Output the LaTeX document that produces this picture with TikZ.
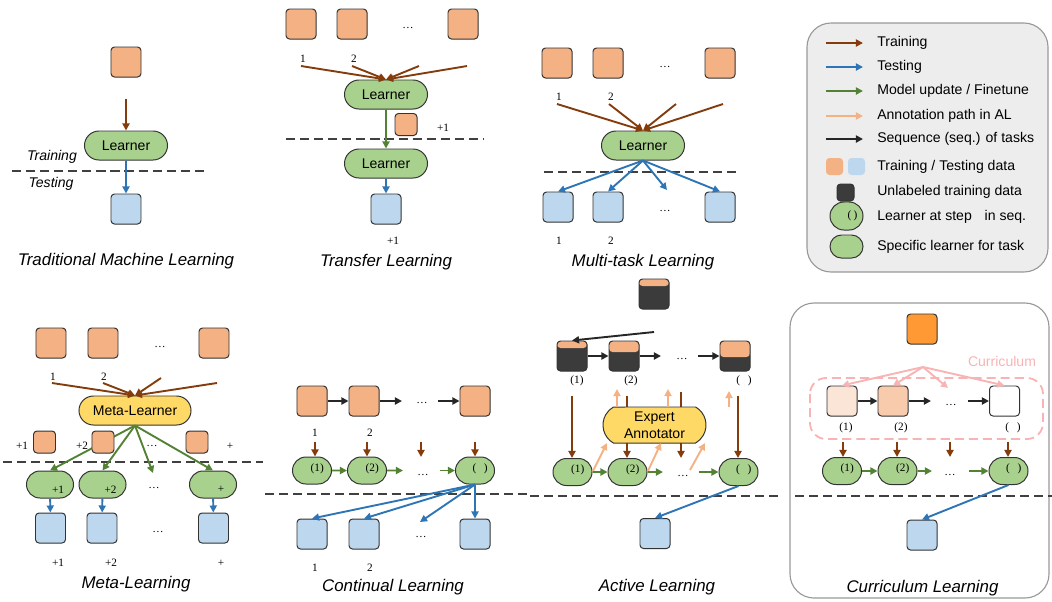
\documentclass[tikz,border=0pt]{standalone}
\usepackage{fontspec}
\setmainfont{Liberation Sans}
\newfontfamily\numfont{Liberation Serif}
\usetikzlibrary{arrows.meta,shapes.misc}

\definecolor{trainc}{HTML}{F4B183}
\definecolor{testc}{HTML}{BDD7EE}
\definecolor{learnc}{HTML}{A9D18E}
\definecolor{metac}{HTML}{FFD966}
\definecolor{brownc}{HTML}{843C0C}
\definecolor{bluec}{HTML}{2E75B6}
\definecolor{greenc}{HTML}{548235}
\definecolor{annotc}{HTML}{F4B183}
\definecolor{seqc}{HTML}{262626}
\definecolor{darkc}{HTML}{3B3B3B}
\definecolor{pinkc}{HTML}{F8B4B4}
\definecolor{currc}{HTML}{FF9933}
\definecolor{cura}{HTML}{FBE5D6}
\definecolor{curb}{HTML}{F8CBAD}
\definecolor{legbg}{HTML}{EDEDED}

\newcommand{\lblfont}{\numfont\fontsize{8}{9}\selectfont}

\tikzstyle{datablock} = [rectangle, rounded corners=2.5pt, minimum width=0.75cm,
minimum height=0.75cm, inner sep=0pt, draw=black!80, line width=0.7pt, fill=trainc]
\tikzstyle{testblock} = [datablock, fill=testc]
\tikzstyle{smallblock} = [datablock, minimum width=0.55cm, minimum height=0.55cm]
\tikzstyle{learner} = [rounded rectangle, minimum width=2.075cm, minimum
height=0.725cm, inner sep=0pt, draw=black!80, line width=0.7pt, fill=learnc, font=\fontsize{10}{12}\selectfont]
\tikzstyle{metalearner} = [learner, minimum width=2.8cm, fill=metac]
\tikzstyle{steplearner} = [learner, minimum width=0.975cm, minimum height=0.675cm]
\tikzstyle{tasklearner} = [steplearner, minimum width=1.175cm]
\tikzstyle{lbl} = [inner sep=0pt, font=\lblfont]
\tikzstyle{phase} = [inner sep=0pt, font=\itshape\fontsize{10}{12}\selectfont]
\tikzstyle{tasktitle} = [inner sep=0pt, font=\itshape\fontsize{12}{14}\selectfont]
\tikzstyle{legtext} = [anchor=west, inner sep=0pt, font=\fontsize{10}{12}\selectfont]
\tikzstyle{arrow} = [line width=1.35pt, -{Triangle[length=5pt,width=5pt]}]
\tikzstyle{trainarrow} = [arrow, draw=brownc]
\tikzstyle{testarrow} = [arrow, draw=bluec]
\tikzstyle{updatearrow} = [arrow, draw=greenc]
\tikzstyle{annotarrow} = [arrow, draw=annotc]
\tikzstyle{seqarrow} = [arrow, draw=seqc]
\tikzstyle{currarrow} = [arrow, draw=pinkc]
\tikzstyle{divider} = [line width=1.1pt, draw=black!75, dash pattern=on 6.5pt off 3.5pt]
\tikzset{
  unlabeled/.style={datablock, fill=darkc, path picture={\fill[trainc]
    (path picture bounding box.north west) rectangle
    ([yshift=-#1]path picture bounding box.north east);}},
  steptext/.style={label={[lbl, xshift=0.13cm, yshift=0.05cm]center:#1}},
  tasktext/.style={label={[lbl, xshift=0.2cm, yshift=-0.13cm]center:#1}}
}

\begin{document}
\begin{tikzpicture}[x=0.025cm, y=-0.025cm]
    \useasboundingbox (0,0) rectangle (1052,601);
    % Traditional machine learning
    \node (TMdata) [datablock] at (126,62) {};
    \coordinate (TMin) at (126,99);
    \node (TMlearner) [learner] at (126,145.5) {Learner};
    \node (TMtest) [testblock] at (126,209) {};
    \draw [divider] (12,171) -- (207,171);
    \draw [trainarrow] (TMin) -- (TMlearner);
    \draw [testarrow] (TMlearner) -- (TMtest);
    \node (TMtrain) [phase] at (52,157) {Training};
    \node (TMtesting) [phase] at (51,184) {Testing};
    \node (TMtitle) [tasktitle] at (126,261) {Traditional Machine Learning};
    % Transfer learning
    \node (TFd1) [datablock] at (301,24) {};
    \node (TFd2) [datablock] at (352,24) {};
    \node (TFdots) [lbl] at (408,28) {\dots};
    \node (TFdn) [datablock] at (463,24) {};
    \node (TFl1) [lbl] at (303,59) {1};
    \node (TFl2) [lbl] at (354,59) {2};
    \coordinate (TFa1) at (301,66);
    \coordinate (TFa2) at (352,66);
    \coordinate (TFa3) at (419,66);
    \coordinate (TFa4) at (467,66);
    \node (TFsrc) [learner] at (386,94.5) {Learner};
    \draw [trainarrow] (TFa1) -- (TFsrc.north);
    \draw [trainarrow] (TFa2) -- (TFsrc.north);
    \draw [trainarrow] (TFa3) -- (TFsrc.north);
    \draw [trainarrow] (TFa4) -- (TFsrc.north);
    \node (TFnew) [smallblock] at (406,124.5) {};
    \node (TFnewl) [lbl] at (443,128) {+1};
    \draw [divider] (286,139) -- (484,139);
    \node (TFtgt) [learner] at (386,163.5) {Learner};
    \node (TFtest) [testblock] at (386,209) {};
    \draw [updatearrow] (TFsrc) -- (TFtgt);
    \draw [testarrow] (TFtgt) -- (TFtest);
    \node (TFtestl) [lbl] at (393,241) {+1};
    \node (TFtitle) [tasktitle] at (386,262) {Transfer Learning};
    % Multi-task learning
    \node (MTd1) [datablock] at (557,63) {};
    \node (MTd2) [datablock] at (608,63) {};
    \node (MTdots) [lbl] at (665,67) {\dots};
    \node (MTdn) [datablock] at (720,63) {};
    \node (MTl1) [lbl] at (559,97) {1};
    \node (MTl2) [lbl] at (611,97) {2};
    \coordinate (MTa1) at (557,104);
    \coordinate (MTa2) at (609,104);
    \coordinate (MTa3) at (676,104);
    \coordinate (MTa4) at (723,104);
    \node (MTlearner) [learner] at (643,145.5) {Learner};
    \draw [trainarrow] (MTa1) -- (MTlearner.north);
    \draw [trainarrow] (MTa2) -- (MTlearner.north);
    \draw [trainarrow] (MTa3) -- (MTlearner.north);
    \draw [trainarrow] (MTa4) -- (MTlearner.north);
    \draw [divider] (544,172) -- (740,172);
    \node (MTt1) [testblock] at (558,207) {};
    \node (MTt2) [testblock] at (608,207) {};
    \node (MTtdots) [lbl] at (665,211) {\dots};
    \node (MTtn) [testblock] at (720,207) {};
    \coordinate (MTfree) at (667,190);
    \draw [testarrow] (MTlearner.south) -- (MTt1.north);
    \draw [testarrow] (MTlearner.south) -- (MTt2.north);
    \draw [testarrow] (MTlearner.south) -- (MTfree);
    \draw [testarrow] (MTlearner.south) -- (MTtn.north);
    \node (MTtl1) [lbl] at (559,241) {1};
    \node (MTtl2) [lbl] at (611,241) {2};
    \node (MTtitle) [tasktitle] at (643,262) {Multi-task Learning};
    % Legend
    \draw [draw=black!40, fill=legbg, line width=0.8pt, rounded corners=0.6cm]
        (807,23) rectangle (1048,272);
    \node (lgTrain) [legtext] at (877,43) {Training};
    \node (lgTest) [legtext] at (877,67) {Testing};
    \node (lgUpdate) [legtext] at (877,91) {Model update / Finetune};
    \node (lgAnnot) [legtext] at (877,116) {Annotation path in AL};
    \node (lgSeq) [legtext] at (877,139) {Sequence (seq.) of tasks};
    \node (lgData) [legtext] at (877,167) {Training / Testing data};
    \node (lgUnlab) [legtext] at (877,192) {Unlabeled training data};
    \node (lgStep) [legtext] at (877,217) {Learner at step\hspace{0.32cm}in seq.};
    \node (lgSpec) [legtext] at (877,247) {Specific learner for task};
    \draw [trainarrow] ([xshift=-1.275cm]lgTrain.west) -- ([xshift=-0.35cm]lgTrain.west);
    \draw [testarrow] ([xshift=-1.275cm]lgTest.west) -- ([xshift=-0.35cm]lgTest.west);
    \draw [updatearrow] ([xshift=-1.275cm]lgUpdate.west) -- ([xshift=-0.35cm]lgUpdate.west);
    \draw [annotarrow] ([xshift=-1.275cm]lgAnnot.west) -- ([xshift=-0.35cm]lgAnnot.west);
    \draw [seqarrow] ([xshift=-1.275cm]lgSeq.west) -- ([xshift=-0.35cm]lgSeq.west);
    \node (lgTrBox) [datablock, draw=none, minimum width=0.425cm, minimum height=0.425cm] at (834.5,166.5) {};
    \node (lgTeBox) [testblock, draw=none, minimum width=0.425cm, minimum height=0.425cm] at (856.5,166.5) {};
    \node (lgUnBox) [datablock, fill=darkc, minimum width=0.425cm, minimum height=0.425cm] at (845.5,192.5) {};
    \node (lgStepL) [steplearner, minimum width=0.825cm, minimum height=0.7cm,
        label={[lbl, xshift=0.15cm]center:(\hspace{0.06cm})}] at (846.5,216) {};
    \node (lgSpecL) [steplearner, minimum width=0.825cm, minimum height=0.575cm] at (846.5,246.5) {};
    % Meta-learning
    \node (MLd1) [datablock] at (51,343) {};
    \node (MLd2) [datablock] at (103,343) {};
    \node (MLdots) [lbl] at (160,347) {\dots};
    \node (MLdn) [datablock] at (214,343) {};
    \node (MLl1) [lbl] at (53,377) {1};
    \node (MLl2) [lbl] at (104,377) {2};
    \coordinate (MLa1) at (52,383);
    \coordinate (MLa2) at (103,383);
    \coordinate (MLa3) at (161,378);
    \coordinate (MLa4) at (217,383);
    \node (MLmeta) [metalearner] at (135,410.5) {Meta-Learner};
    \draw [trainarrow] (MLa1) -- (MLmeta.north);
    \draw [trainarrow] (MLa2) -- (MLmeta.north);
    \draw [trainarrow] (MLa3) -- (MLmeta.north);
    \draw [trainarrow] (MLa4) -- (MLmeta.north);
    \draw [divider] (3,462) -- (263,462);
    \node (MLp1) [tasklearner, tasktext=+1] at (50,484.5) {};
    \node (MLp2) [tasklearner, tasktext=+2] at (102.5,484.5) {};
    \node (MLpdots) [lbl] at (154,488) {\dots};
    \node (MLpn) [tasklearner, tasktext=+] at (213,484.5) {};
    \coordinate (MLfree) at (153,473);
    \draw [updatearrow] (MLmeta.south) -- (MLp1.north);
    \draw [updatearrow] (MLmeta.south) -- (MLp2.north);
    \draw [updatearrow] (MLmeta.south) -- (MLfree);
    \draw [updatearrow] (MLmeta.south) -- (MLpn.north);
    \node (MLs1) [smallblock] at (44.5,442) {};
    \node (MLs2) [smallblock] at (103,442) {};
    \node (MLsdots) [lbl] at (152,446) {\dots};
    \node (MLsn) [smallblock] at (197,442) {};
    \node (MLsl1) [lbl] at (22,446) {+1};
    \node (MLsl2) [lbl] at (82,446) {+2};
    \node (MLsln) [lbl] at (230,446) {+};
    \node (MLt1) [testblock] at (50.5,528) {};
    \node (MLt2) [testblock] at (102,528) {};
    \node (MLtdots) [lbl] at (158,532) {\dots};
    \node (MLtn) [testblock] at (213.5,528) {};
    \draw [testarrow] (MLp1) -- (MLt1);
    \draw [testarrow] (MLp2) -- (MLt2);
    \draw [testarrow] (MLpn) -- (MLtn);
    \node (MLtl1) [lbl] at (58,563) {+1};
    \node (MLtl2) [lbl] at (111,563) {+2};
    \node (MLtln) [lbl] at (221,563) {+};
    \node (MLtitle) [tasktitle] at (136,584) {Meta-Learning};
    % Continual learning
    \node (CLd1) [datablock] at (312,401) {};
    \node (CLd2) [datablock] at (364,401) {};
    \node (CLdots) [lbl] at (422,403) {\dots};
    \node (CLdn) [datablock] at (475,401) {};
    \coordinate (CLs1) at (402,401);
    \coordinate (CLs2) at (438,401);
    \draw [seqarrow] (CLd1) -- (CLd2);
    \draw [seqarrow] (CLd2) -- (CLs1);
    \draw [seqarrow] (CLs2) -- (CLdn);
    \node (CLl1) [lbl] at (315,433) {1};
    \node (CLl2) [lbl] at (370,433) {2};
    \node (CLp1) [steplearner, steptext=(1)] at (312,470.5) {};
    \node (CLp2) [steplearner, steptext=(2)] at (367,470.5) {};
    \node (CLpdots) [lbl] at (423,475) {\dots};
    \node (CLpn) [steplearner, steptext={(\hspace{0.19cm})}] at (475,470.5) {};
    \coordinate (CLb1) at (315,442);
    \coordinate (CLb2) at (367,442);
    \coordinate (CLb3) at (421,442);
    \coordinate (CLb3e) at (421,457);
    \coordinate (CLb4) at (475,442);
    \draw [trainarrow] (CLb1) -- (CLb1 |- CLp1.north);
    \draw [trainarrow] (CLb2) -- (CLp2.north);
    \draw [trainarrow] (CLb3) -- (CLb3e);
    \draw [trainarrow] (CLb4) -- (CLpn.north);
    \coordinate (CLg1) at (403,470.5);
    \coordinate (CLg2) at (440,470.5);
    \draw [updatearrow] (CLp1) -- (CLp2);
    \draw [updatearrow] (CLp2) -- (CLg1);
    \draw [updatearrow] (CLg2) -- (CLpn);
    \draw [divider] (265,494) -- (530,494);
    \node (CLt1) [testblock] at (312,534) {};
    \node (CLt2) [testblock] at (364,534) {};
    \node (CLtdots) [lbl] at (421,537) {\dots};
    \node (CLtn) [testblock] at (475,534) {};
    \coordinate (CLfree) at (420,522);
    \draw [testarrow] (CLpn.south) -- (CLt1.north);
    \draw [testarrow] (CLpn.south) -- (CLt2.north);
    \draw [testarrow] (CLpn.south) -- (CLfree);
    \draw [testarrow] (CLpn.south) -- (CLtn.north);
    \node (CLtl1) [lbl] at (315,568) {1};
    \node (CLtl2) [lbl] at (370,568) {2};
    \node (CLtitle) [tasktitle] at (393,587) {Continual Learning};
    % Active learning
    \node (ALpool) [unlabeled=0.175cm] at (654,294) {};
    \node (ALu1) [unlabeled=0.175cm] at (572,356) {};
    \node (ALu2) [unlabeled=0.275cm] at (624,356) {};
    \node (ALdots) [lbl] at (682,359) {\dots};
    \node (ALun) [unlabeled=0.4cm] at (735,356) {};
    \coordinate (ALsel) at (654,332);
    \draw [seqarrow] (ALsel) -- (ALu1.north);
    \coordinate (ALs1) at (661,356);
    \coordinate (ALs2) at (698,356);
    \draw [seqarrow] (ALu1) -- (ALu2);
    \draw [seqarrow] (ALu2) -- (ALs1);
    \draw [seqarrow] (ALs2) -- (ALun);
    \node (ALl1) [lbl] at (577,381) {(1)};
    \node (ALl2) [lbl] at (631,381) {(2)};
    \node (ALln) [lbl] at (744,381) {(\hspace{0.19cm})};
    \node (ALp1) [steplearner, steptext=(1)] at (572.5,472) {};
    \node (ALp2) [steplearner, steptext=(2)] at (627.5,472) {};
    \node (ALpdots) [lbl] at (683,476) {\dots};
    \node (ALpn) [steplearner, steptext={(\hspace{0.19cm})}] at (738.5,472) {};
    \coordinate (ALb1) at (572,396);
    \coordinate (ALb2) at (627,396);
    \coordinate (ALb3) at (681,392);
    \coordinate (ALb3e) at (681,458);
    \coordinate (ALb4) at (738,396);
    \draw [trainarrow] (ALb1) -- (ALb1 |- ALp1.north);
    \draw [trainarrow] (ALb2) -- (ALb2 |- ALp2.north);
    \draw [trainarrow] (ALb3) -- (ALb3e);
    \draw [trainarrow] (ALb4) -- (ALb4 |- ALpn.north);
    \node (ALexpert) [metalearner, minimum width=2.575cm, minimum height=0.9cm,
        rounded rectangle arc length=120, align=center, font=\fontsize{10}{12}\selectfont]
        at (654.5,425) {Expert\\Annotator};
    \coordinate (ALup1) at (617,389);
    \coordinate (ALup2) at (668,389);
    \coordinate (ALup3) at (729,391);
    \coordinate (ALup3s) at (729,407);
    \draw [annotarrow] (ALexpert.north -| ALup1) -- (ALup1);
    \draw [annotarrow] (ALexpert.north -| ALup2) -- (ALup2);
    \draw [annotarrow] (ALup3s) -- (ALup3);
    \coordinate (ALe1) at (607,443);
    \coordinate (ALe2) at (661,443);
    \coordinate (ALe3) at (705,443);
    \coordinate (ALe3s) at (690,470);
    \draw [annotarrow] (ALp1.east) -- (ALe1);
    \draw [annotarrow] (ALp2.east) -- (ALe2);
    \draw [annotarrow] (ALe3s) -- (ALe3);
    \coordinate (ALg1) at (663,472);
    \coordinate (ALg2) at (699,472);
    \draw [updatearrow] (ALp1) -- (ALp2);
    \draw [updatearrow] (ALp2) -- (ALg1);
    \draw [updatearrow] (ALg2) -- (ALpn);
    \draw [divider] (530,496) -- (780,496);
    \node (ALtest) [testblock] at (655,533.5) {};
    \draw [testarrow] (ALpn.south) -- (ALtest.north);
    \node (ALtitle) [tasktitle] at (657,587) {Active Learning};
    % Curriculum learning
    \draw [draw=black!40, line width=0.8pt, rounded corners=0.6cm]
        (790,303) rectangle (1049,598);
    \node (CUraw) [datablock, fill=currc] at (922,329) {};
    \node (CUname) [inner sep=0pt, text=pinkc, font=\fontsize{10}{12}\selectfont] at (1002,361) {Curriculum};
    \draw [draw=pinkc, line width=1.3pt, dash pattern=on 6.5pt off 3.5pt, rounded corners=0.4cm]
        (810,378) rectangle (1043,439);
    \node (CUd1) [datablock, fill=cura] at (842,401) {};
    \node (CUd2) [datablock, fill=curb] at (893,401) {};
    \node (CUdots) [lbl] at (951,405) {\dots};
    \node (CUdn) [datablock, fill=white] at (1004.5,401) {};
    \coordinate (CUsrc) at (923,367);
    \coordinate (CUfree) at (948,388);
    \draw [currarrow] (CUsrc) -- (CUd1.north);
    \draw [currarrow] (CUsrc) -- (CUd2.north);
    \draw [currarrow] (CUsrc) -- (CUfree);
    \draw [currarrow] (CUsrc) -- (CUdn.north);
    \coordinate (CUs1) at (931,401);
    \coordinate (CUs2) at (968,401);
    \draw [seqarrow] (CUd1) -- (CUd2);
    \draw [seqarrow] (CUd2) -- (CUs1);
    \draw [seqarrow] (CUs2) -- (CUdn);
    \node (CUl1) [lbl] at (846,428) {(1)};
    \node (CUl2) [lbl] at (901,428) {(2)};
    \node (CUln) [lbl] at (1013,428) {(\hspace{0.19cm})};
    \node (CUp1) [steplearner, steptext=(1)] at (842,471) {};
    \node (CUp2) [steplearner, steptext=(2)] at (897.5,471) {};
    \node (CUpdots) [lbl] at (950,475) {\dots};
    \node (CUpn) [steplearner, steptext={(\hspace{0.19cm})}] at (1008.5,471) {};
    \coordinate (CUb1) at (843,442);
    \coordinate (CUb2) at (897,442);
    \coordinate (CUb3) at (950,442);
    \coordinate (CUb3e) at (950,457);
    \coordinate (CUb4) at (1008,442);
    \draw [trainarrow] (CUb1) -- (CUb1 |- CUp1.north);
    \draw [trainarrow] (CUb2) -- (CUb2 |- CUp2.north);
    \draw [trainarrow] (CUb3) -- (CUb3e);
    \draw [trainarrow] (CUb4) -- (CUb4 |- CUpn.north);
    \coordinate (CUg1) at (932,471);
    \coordinate (CUg2) at (969,471);
    \draw [updatearrow] (CUp1) -- (CUp2);
    \draw [updatearrow] (CUp2) -- (CUg1);
    \draw [updatearrow] (CUg2) -- (CUpn);
    \draw [divider] (795,496) -- (1052,496);
    \node (CUtest) [testblock] at (922,535) {};
    \draw [testarrow] (CUpn.south) -- (CUtest.north);
    \node (CUtitle) [tasktitle] at (922.5,588) {Curriculum Learning};
\end{tikzpicture}
\end{document}
